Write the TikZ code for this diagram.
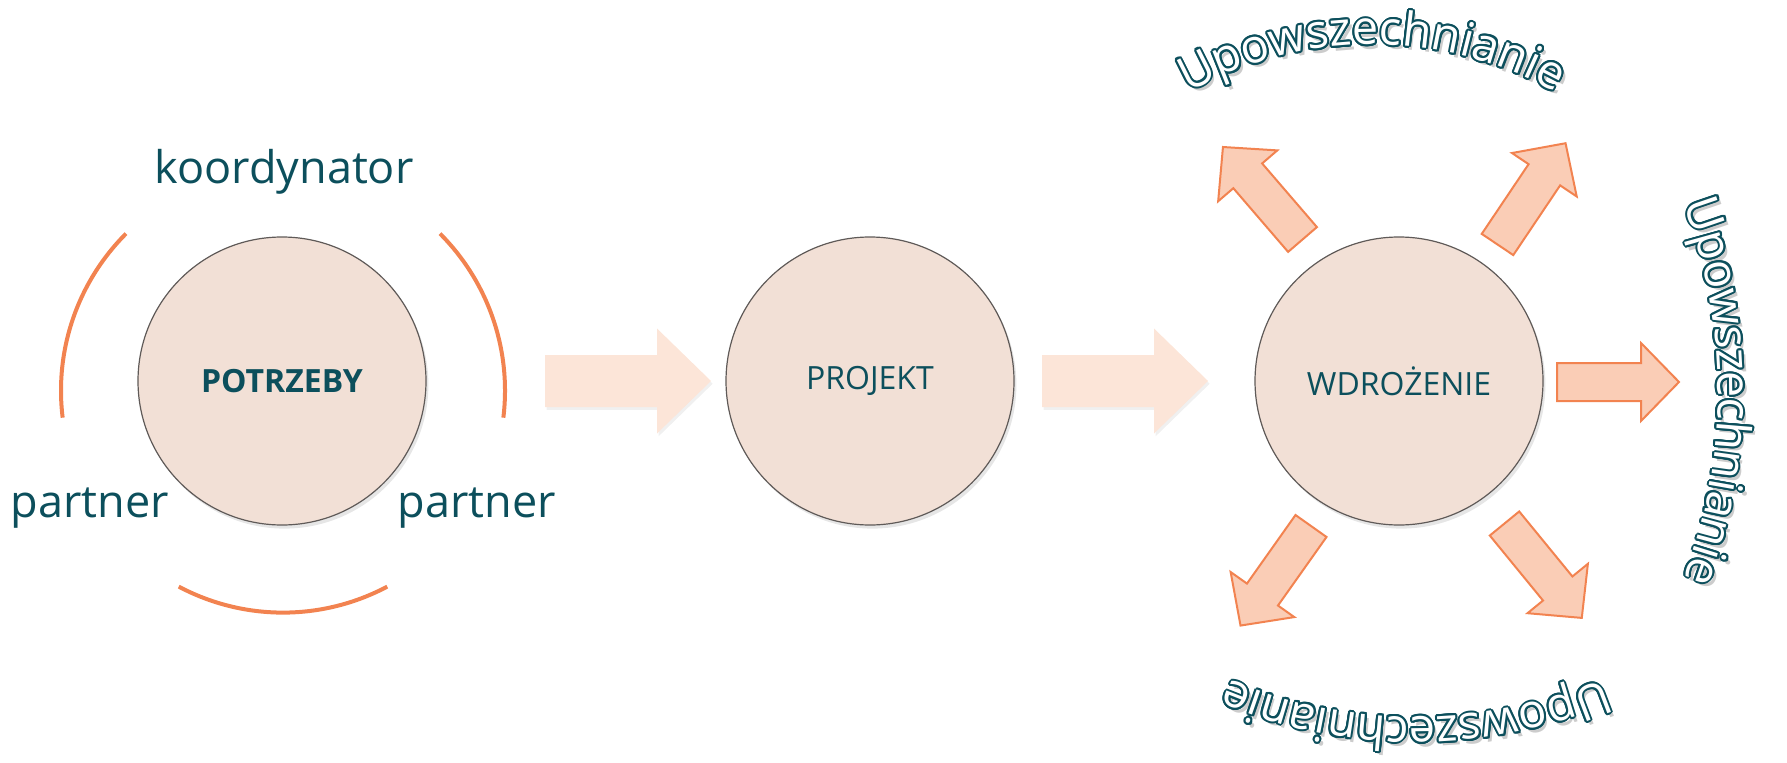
\documentclass[tikz,border=0pt]{standalone}
\usepackage{fontspec}
\setmainfont{Open Sans}
\usetikzlibrary{shadows,decorations.text,calc}
\definecolor{tealtxt}{RGB}{12,79,92}
\definecolor{orng}{RGB}{242,131,80}
\definecolor{orfill}{RGB}{250,205,182}
\definecolor{peach}{RGB}{252,229,216}
\definecolor{circfill}{RGB}{242,224,214}
\definecolor{circline}{RGB}{95,90,88}
\newcommand\upfont{\fontsize{23.5}{28}\selectfont}
\newcommand\archword[4]{%
  \path[archtext=black!20] ($(#1)+(3.5,-4.5)$) arc[start angle=#2,end angle=#3,radius=#4];
  \foreach \a in {0,22.5,...,337.5}{%
    \path[archtext=tealtxt] ($(#1)+(\a:2)$) arc[start angle=#2,end angle=#3,radius=#4];}
  \foreach \a in {0,45,...,315}{%
    \path[archtext=tealtxt] ($(#1)+(\a:1)$) arc[start angle=#2,end angle=#3,radius=#4];}
  \path[archtext=white] (#1) arc[start angle=#2,end angle=#3,radius=#4];
}
\begin{document}
\begin{tikzpicture}[x=0.5pt,y=0.5pt,
  circ/.style={circle, minimum size=144pt, inner sep=0pt, fill=circfill, draw=circline,
    line width=0.6pt, text=tealtxt, font=\fontsize{16}{19}\selectfont,
    drop shadow={opacity=0.2, shadow xshift=1.2pt, shadow yshift=-1.8pt}},
  lbl/.style={text=tealtxt, font=\fontsize{22.5}{27}\selectfont, inner sep=0pt},
  arcline/.style={draw=orng, line width=2pt},
  archtext/.style={decorate, decoration={text along path, text align=center,
    text color=#1, text={|\upfont|Upowszechnianie}}},
  pics/peacharrow/.style={code={
    \fill[peach, drop shadow={opacity=0.12, shadow xshift=0.8pt, shadow yshift=-1.4pt}]
      (0,-26)--(112,-26)--(112,-52.5)--(166,0)--(112,52.5)--(112,26)--(0,26)--cycle;}},
  pics/orarrow/.style={code={
    \filldraw[fill=orfill, draw=orng, line width=1pt, line join=miter]
      (0,-19)--(84,-19)--(84,-39)--(122,0)--(84,39)--(84,19)--(0,19)--cycle;}}
]
\useasboundingbox (0,0) rectangle (1787,762);

% circles
\node[circ, font=\fontsize{16}{19}\selectfont\bfseries] (potrzeby) at (282,381) {POTRZEBY};
\node[circ] (projekt) at (870,381) {PROJEKT};
\node[circ] (wdrozenie) at (1399,381) {WDROŻENIE};

% labels around POTRZEBY
\node[lbl, anchor=base] (koord) at (284,579) {koordynator};
\node[lbl, anchor=base] (partnerL) at (90,245) {partner};
\node[lbl, anchor=base] (partnerR) at (477,245) {partner};

% orange arcs around POTRZEBY
\coordinate (arcc) at (283,371.4);
\draw[arcline] ($(arcc)+(135:222)$) arc[start angle=135, end angle=187, radius=222];
\draw[arcline] ($(arcc)+(45:222)$) arc[start angle=45, end angle=-7, radius=222];
\draw[arcline] ($(arcc)+(242:222)$) arc[start angle=242, end angle=298, radius=222];

% peach arrows between circles
\pic (a1) at (545,381) {peacharrow};
\pic (a2) at (1042,381) {peacharrow};

% orange arrows around WDROZENIE
\pic (or) at (1557,380) {orarrow};
\pic[rotate=130.7] (oul) at (1302.5,522.5) {orarrow};
\pic[rotate=56.1] (our) at (1497.5,517.5) {orarrow};
\pic[rotate=234.7] (oll) at (1311,236) {orarrow};
\pic[rotate=-50.7] (olr) at (1504.5,238.5) {orarrow};

% curved words
\coordinate (ctop) at (1372,340.4);
\coordinate (cright) at (1187,371);
\coordinate (cbot) at (1416,525);
\coordinate (stop) at ($(ctop)+(126:377)$);
\coordinate (sright) at ($(cright)+(25:531)$);
\coordinate (sbot) at ($(cbot)+(297:480)$);
\archword{stop}{126}{54}{377}
\archword{sright}{25}{-25}{531}
\archword{sbot}{297}{243}{480}
\end{tikzpicture}
\end{document}
